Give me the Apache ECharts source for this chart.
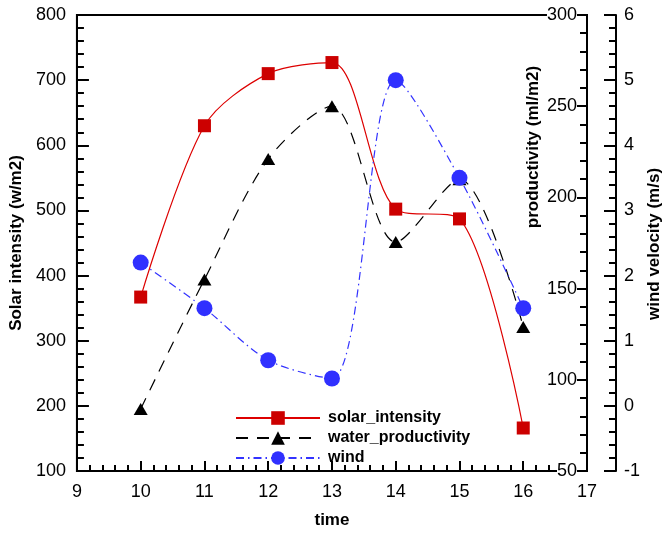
<!DOCTYPE html>
<html>
<head>
<meta charset="utf-8">
<script src="https://cdn.jsdelivr.net/npm/echarts@6/dist/echarts.min.js"></script>
<style>
html,body{margin:0;padding:0;background:#fff;}
#chart{width:662px;height:534px;}
</style>
</head>
<body>
<div id="chart"></div>
<script>
var times = [10, 11, 12, 13, 14, 15, 16];
var solarIntensity = [367, 630, 710, 727, 502, 487, 166];
var waterProductivity = [84, 155, 221, 250, 175.5, 210, 129];
var windVelocity = [2.2, 1.5, 0.7, 0.42, 5.0, 3.5, 1.5];

var seriesNames = ['solar_intensity', 'water_productivity', 'wind'];
var axisTitles = {x: 'time', solar: 'Solar intensity (w/m2)', prod: 'productivity (ml/m2)', wind: 'wind velocity (m/s)'};

function pairs(xs, ys) { return xs.map(function (x, i) { return [x, ys[i]]; }); }

var FONT = '"Liberation Sans", Arial, Helvetica, sans-serif';
var BLACK = '#000';

function yAxisBase(min, max, interval) {
  return {
    type: 'value', min: min, max: max, interval: interval,
    splitLine: {show: false},
    axisLine: {show: true, onZero: false, lineStyle: {color: BLACK, width: 2}},
    axisTick: {show: true, inside: true, length: 12, lineStyle: {color: BLACK, width: 2}},
    minorTick: {show: true, splitNumber: 5, length: 7, lineStyle: {color: BLACK, width: 2}},
    minorSplitLine: {show: false},
    axisLabel: {color: BLACK, fontSize: 18, fontFamily: FONT, margin: 11}
  };
}

var chart = echarts.init(document.getElementById('chart'), null, {renderer: 'canvas'});

var yLeft = yAxisBase(100, 800, 100);
yLeft.position = 'left';
yLeft.name = axisTitles.solar;
yLeft.nameLocation = 'middle';
yLeft.nameGap = 50;
yLeft.nameTextStyle = {color: BLACK, fontSize: 17, fontWeight: 'bold', fontFamily: FONT};

var yProd = yAxisBase(50, 300, 50);
yProd.position = 'right';
yProd.offset = 0;
yProd.axisLabel.inside = true;
yProd.axisLabel.margin = 10;
yProd.axisLabel.backgroundColor = '#fff';

var yWind = yAxisBase(-1, 6, 1);
yWind.position = 'right';
yWind.offset = 29;
yWind.axisLabel.margin = 8;

var option = {
  backgroundColor: '#fff',
  animation: false,
  grid: {left: 76, right: 75, top: 15, bottom: 62, show: true, borderColor: BLACK, borderWidth: 2, backgroundColor: 'transparent'},
  xAxis: {
    type: 'value', min: 9, max: 17, interval: 1,
    splitLine: {show: false},
    axisLine: {show: true, onZero: false, lineStyle: {color: BLACK, width: 2}},
    axisTick: {show: true, inside: true, length: 10, lineStyle: {color: BLACK, width: 2}},
    minorTick: {show: true, splitNumber: 5, length: 6, lineStyle: {color: BLACK, width: 2}},
    axisLabel: {color: BLACK, fontSize: 18, fontFamily: FONT, margin: 12},
    name: axisTitles.x, nameLocation: 'middle', nameGap: 41,
    nameTextStyle: {color: BLACK, fontSize: 17, fontWeight: 'bold', fontFamily: FONT}
  },
  yAxis: [yLeft, yProd, yWind],
  legend: {
    orient: 'vertical', left: 235, top: 410, padding: 0, itemWidth: 84, itemHeight: 17, itemGap: 4,
    textStyle: {color: BLACK, fontSize: 16, fontWeight: 'bold', fontFamily: FONT, padding: [0, 0, 0, 3]},
    data: seriesNames
  },
  graphic: [
    {type: 'text', x: 533, y: 147, rotation: Math.PI / 2,
     style: {text: axisTitles.prod, fill: BLACK, font: 'bold 17px ' + FONT, align: 'center', verticalAlign: 'middle'}},
    {type: 'text', x: 654, y: 244, rotation: Math.PI / 2,
     style: {text: axisTitles.wind, fill: BLACK, font: 'bold 17px ' + FONT, align: 'center', verticalAlign: 'middle'}}
  ],
  series: [
    {
      name: seriesNames[0], type: 'line', yAxisIndex: 0, smooth: 0.3,
      data: pairs(times, solarIntensity),
      symbol: 'rect', symbolSize: 13,
      lineStyle: {color: '#dd0000', width: 1.2},
      itemStyle: {color: '#cc0000'}
    },
    {
      name: seriesNames[1], type: 'line', yAxisIndex: 1, smooth: 0.3,
      data: pairs(times, waterProductivity),
      symbol: 'triangle', symbolSize: [14, 12],
      lineStyle: {color: '#000', width: 1.2, type: [12, 9]},
      itemStyle: {color: '#000'}
    },
    {
      name: seriesNames[2], type: 'line', yAxisIndex: 2, smooth: 0.3,
      data: pairs(times, windVelocity),
      symbol: 'circle', symbolSize: 16,
      lineStyle: {color: '#3333ff', width: 1.2, type: [8, 4, 1.5, 4]},
      itemStyle: {color: '#3030ff'}
    }
  ]
};
chart.setOption(option);
</script>
</body>
</html>
